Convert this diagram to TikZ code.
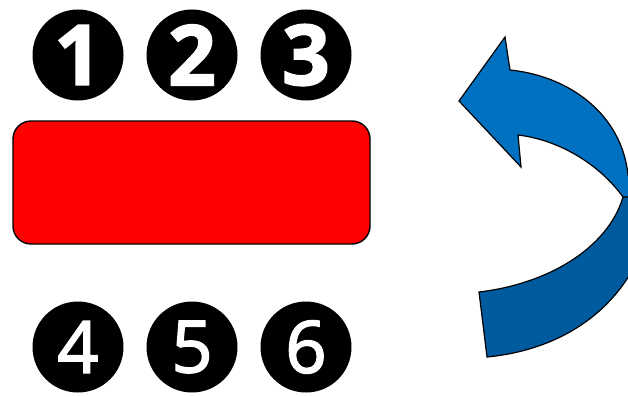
\documentclass[tikz,border=0pt]{standalone}
\usepackage{fontspec}
\newfontfamily\topnumfont{Open Sans}[BoldFeatures={FakeBold=1.8}]
\newfontfamily\botnumfont{Open Sans}[FakeBold=2.3]
\definecolor{arrowlight}{HTML}{0070C0}
\definecolor{arrowdark}{HTML}{005A9E}
\tikzset{
  numdot/.style={circle, fill=black, minimum size=91pt, inner sep=0pt, text=white},
  topnum/.style={numdot, font=\topnumfont\bfseries\fontsize{84}{84}\selectfont},
  botnum/.style={numdot, font=\botnumfont\fontsize{72}{72}\selectfont}
}
\begin{document}
\begin{tikzpicture}[x=1pt,y=-1pt]
  \useasboundingbox (0,0) rectangle (628,396);
  % numbers above the bar
  \node[topnum] (n1) at (78,55) {1};
  \node[topnum] (n2) at (192,55) {2};
  \node[topnum] (n3) at (306,55) {3};
  % red bar
  \node[draw=black, line width=1.4pt, fill=red, rounded corners=18pt,
        minimum width=357pt, minimum height=123pt] (bar) at (191.5,182.5) {};
  % numbers below the bar
  \node[botnum] (n4) at (78,347) {4};
  \node[botnum] (n5) at (192,347) {5};
  \node[botnum] (n6) at (306,347) {6};
  % curved arrow, cut off at the right edge
  \begin{scope}
    \clip (0,0) rectangle (628,396);
    % upper band with head
    \draw[line width=1.2pt, line join=miter, fill=arrowlight]
      (459,101) -- (505,37) -- (510,70)
      .. controls (570,76) and (622,115) .. (628,175)
      -- (640,200) -- (623,197)
      .. controls (600,165) and (560,140) .. (518,135)
      -- (521,167) -- cycle;
    % lower band (tail)
    \draw[line width=1.2pt, fill=arrowdark]
      (623,197) .. controls (608,248) and (548,284) .. (479,292)
      -- (487,357)
      .. controls (560,350) and (615,312) .. (640,255)
      -- (640,197) -- cycle;
  \end{scope}
\end{tikzpicture}
\end{document}
